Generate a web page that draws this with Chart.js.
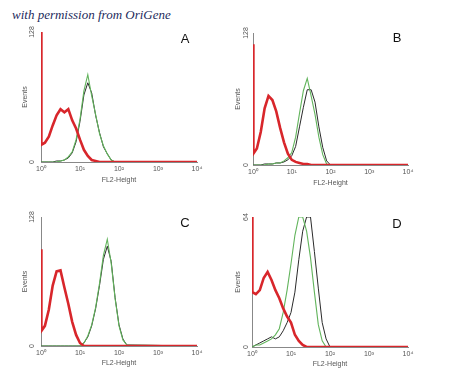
<!DOCTYPE html>
<html>
<head>
<meta charset="UTF-8">
<title>FL2-Height histograms</title>
<script src="https://cdn.jsdelivr.net/npm/chart.js"></script>
<style>
  body { margin: 0; background: #fff; width: 450px; height: 389px; position: relative; overflow: hidden;
         font-family: "Liberation Sans", Arial, sans-serif; }
  canvas { position: absolute; }
  .note { position: absolute; left: 12px; top: 7px; font-family: "Liberation Serif", serif; font-style: italic;
          font-size: 13px; color: #1d2b5c; white-space: nowrap; }
  .tag { position: absolute; font-size: 13px; color: #111; transform: translate(-50%, -50%); }
</style>
</head>
<body>
<div class="note">with permission from OriGene</div>
<canvas id="pA" width="225" height="190" style="left:0;top:0"></canvas>
<canvas id="pB" width="225" height="193" style="left:225px;top:0"></canvas>
<canvas id="pC" width="225" height="189" style="left:0;top:185px"></canvas>
<canvas id="pD" width="225" height="190" style="left:225px;top:185px"></canvas>
<div class="tag" style="left:185px;top:38px">A</div>
<div class="tag" style="left:397px;top:37px">B</div>
<div class="tag" style="left:185px;top:222px">C</div>
<div class="tag" style="left:397px;top:223px">D</div>

<script>
// log10 of FL2 channel (0 = 10^0 ... 4 = 10^4)
const decades = [0, 0.01, 0.1, 0.2, 0.3, 0.4, 0.5, 0.6, 0.7, 0.8, 0.9, 1.0, 1.1,
                 1.2, 1.3, 1.4, 1.5, 1.6, 1.7, 1.8, 1.9, 2.0, 2.1, 2.2, 4];
const tickLabels = ['10⁰', '10¹', '10²', '10³', '10⁴'];
const yMaxes = [128, 128, 128, 64];

const redA   = [128, 17, 19, 25, 36, 46, 52, 49, 52, 41, 33, 22, 12, 6, 2, 1, 0, 0, 0, 0, 0, 0, 0, 0, 0];
const greenA = [0, 0, 0, 0, 0, 0, 1, 2, 5, 10, 22, 42, 70, 86, 65, 47, 28, 16, 8, 2, 0, 0, 0, 0, 0];
const blackA = [0, 0, 0, 0, 0, 1, 1, 2, 4, 9, 20, 40, 66, 78, 68, 46, 29, 15, 8, 2, 0, 0, 0, 0, 0];

const redB   = [117, 11, 16, 32, 55, 67, 63, 52, 36, 22, 11, 5, 3, 2, 1, 1, 0, 0, 0, 0, 0, 0, 0, 0, 0];
const greenB = [0, 0, 0, 0, 0, 1, 1, 2, 2, 4, 7, 12, 27, 50, 72, 84, 67, 49, 27, 10, 1, 0, 0, 0, 0];
const blackB = [0, 0, 0, 0, 1, 1, 1, 2, 2, 3, 5, 9, 18, 37, 56, 73, 73, 61, 37, 17, 4, 0, 0, 0, 0];

const redC   = [96, 15, 20, 36, 60, 74, 75, 58, 42, 24, 11, 3, 0, 0, 0, 0, 0, 0, 0, 0, 0, 0, 0, 0, 0];
const greenC = [0, 0, 0, 0, 0, 0, 0, 0, 0, 0, 0, 0, 3, 10, 21, 38, 62, 90, 106, 82, 47, 20, 6, 1, 0];
const blackC = [0, 0, 0, 0, 0, 0, 0, 0, 0, 0, 0, 0, 3, 9, 20, 37, 60, 86, 99, 84, 48, 21, 7, 1, 0];

const redD   = [64, 27, 26, 28, 34, 37, 33, 28, 24, 19, 15, 12, 6, 3, 1, 0, 0, 0, 0, 0, 0, 0, 0, 0, 0];
const greenD = [0, 0, 1, 1, 2, 3, 4, 6, 9, 17, 28, 41, 55, 64, 64, 57, 44, 27, 11, 3, 0, 0, 0, 0, 0];
const blackD = [0, 0, 1, 2, 3, 4, 5, 4, 5, 8, 12, 17, 27, 43, 57, 64, 64, 47, 29, 12, 4, 0, 0, 0, 0];

const series = [[redA, greenA, blackA], [redB, greenB, blackB], [redC, greenC, blackC], [redD, greenD, blackD]];

// where each panel's plot box sits inside its canvas
const frames = [
  { id: 'pA', yW: 41, top: 32, right: 28, xTitlePad: 5.8, yTitlePad: 20.8, labelX: 32 },
  { id: 'pB', yW: 28, top: 33, right: 42, xTitlePad: 5.8, yTitlePad: 8.8,  labelX: 21 },
  { id: 'pC', yW: 41, top: 32, right: 28, xTitlePad: 6.8, yTitlePad: 20.8, labelX: 32 },
  { id: 'pD', yW: 27, top: 32, right: 42, xTitlePad: 6.8, yTitlePad: 8.8,  labelX: 21 }
];

const FONT = '"Liberation Sans", Arial, sans-serif';

// rotated 0 / max labels on the Events axis
const yEnds = {
  id: 'yEnds',
  afterDraw(chart, args, opts) {
    const { ctx } = chart;
    const y = chart.scales.y;
    ctx.save();
    ctx.font = '7px ' + FONT;
    ctx.fillStyle = '#555';
    ctx.textAlign = 'center';
    ctx.textBaseline = 'middle';
    [y.min, y.max].forEach(v => {
      ctx.save();
      ctx.translate(opts.x, y.getPixelForValue(v));
      ctx.rotate(-Math.PI / 2);
      ctx.fillText(String(v), 0, 0);
      ctx.restore();
    });
    ctx.restore();
  }
};

const pts = arr => arr.map((v, i) => ({ x: decades[i], y: v }));

frames.forEach((f, k) => {
  const [red, green, black] = series[k];
  new Chart(document.getElementById(f.id), {
    type: 'line',
    data: {
      datasets: [
        { data: pts(red),   borderColor: '#d8262b', borderWidth: 2.6 },
        { data: pts(green), borderColor: '#62b45c', borderWidth: 1.1 },
        { data: pts(black), borderColor: '#2a2a2a', borderWidth: 1 }
      ]
    },
    options: {
      responsive: false,
      animation: false,
      devicePixelRatio: 1,
      layout: { padding: { top: f.top, right: f.right, left: 0, bottom: 0 } },
      elements: { point: { radius: 0 }, line: { tension: 0 } },
      plugins: { legend: { display: false }, tooltip: { enabled: false }, yEnds: { x: f.labelX } },
      scales: {
        x: {
          type: 'linear', min: 0, max: 4,
          grid: { display: false, drawTicks: false },
          border: { display: true, color: '#888', width: 1 },
          ticks: { stepSize: 1, padding: 3, color: '#555', font: { family: FONT, size: 7 },
                   callback: v => tickLabels[v] },
          title: { display: true, text: 'FL2-Height', color: '#555', font: { family: FONT, size: 7 },
                   padding: { top: 0, bottom: f.xTitlePad } },
          afterFit: s => { s.height = 28; }
        },
        y: {
          min: 0, max: yMaxes[k],
          grid: { display: false, drawTicks: false },
          border: { display: true, color: '#888', width: 1 },
          ticks: { display: false },
          title: { display: true, text: 'Events', color: '#555', font: { family: FONT, size: 7 },
                   padding: { top: f.yTitlePad, bottom: 0 } },
          afterFit: s => { s.width = f.yW; }
        }
      }
    },
    plugins: [yEnds]
  });
});
</script>
</body>
</html>
